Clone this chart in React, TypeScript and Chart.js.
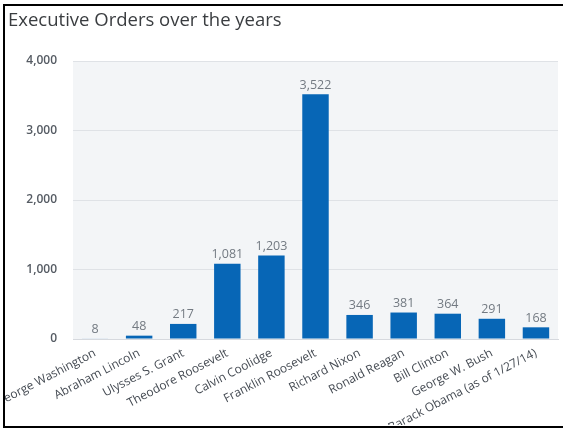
import React, { useEffect, useRef } from "react";
import { Chart, registerables } from "chart.js";

Chart.register(...registerables);

const categories = [
  "George Washington",
  "Abraham Lincoln",
  "Ulysses S. Grant",
  "Theodore Roosevelt",
  "Calvin Coolidge",
  "Franklin Roosevelt",
  "Richard Nixon",
  "Ronald Reagan",
  "Bill Clinton",
  "George W. Bush",
  "Barack Obama (as of 1/27/14)",
];
const orders = [8, 48, 217, 1081, 1203, 3522, 346, 381, 364, 291, 168];
const titleText = "Executive Orders over the years";
const yMax = 4000;
const yStep = 1000;

const FONT = "'Open Sans', 'Noto Sans', sans-serif";

const bgPlugin = {
  id: "plotBg",
  beforeDraw(chart: any) {
    const { ctx, chartArea } = chart;
    ctx.save();
    ctx.fillStyle = "#f3f5f7";
    ctx.fillRect(chartArea.left, chartArea.top, chartArea.right - chartArea.left, chartArea.bottom - chartArea.top);
    ctx.restore();
  },
};

const titlePlugin = {
  id: "leftTitle",
  afterDraw(chart: any) {
    const { ctx } = chart;
    ctx.save();
    ctx.font = `18.5px ${FONT}`;
    ctx.fillStyle = "#3a3d40";
    ctx.textAlign = "left";
    ctx.textBaseline = "alphabetic";
    ctx.fillText(titleText, 3, 20);
    ctx.restore();
  },
};

const labelPlugin = {
  id: "valueLabels",
  afterDatasetsDraw(chart: any) {
    const { ctx } = chart;
    const meta = chart.getDatasetMeta(0);
    ctx.save();
    ctx.font = `12.5px ${FONT}`;
    ctx.fillStyle = "#737a82";
    ctx.textAlign = "center";
    ctx.textBaseline = "bottom";
    meta.data.forEach((bar: any, i: number) => {
      const v = chart.data.datasets[0].data[i];
      ctx.fillText(Number(v).toLocaleString("en-US"), bar.x, bar.y - 3);
    });
    ctx.restore();
  },
};

export default function App() {
  const ref = useRef<HTMLCanvasElement>(null);
  useEffect(() => {
    const chart = new Chart(ref.current!, {
      type: "bar",
      data: {
        labels: categories,
        datasets: [
          {
            data: orders,
            backgroundColor: "#0766b6",
            borderWidth: 0,
            categoryPercentage: 1,
            barPercentage: 0.6,
          },
        ],
      },
      plugins: [bgPlugin, titlePlugin, labelPlugin],
      options: {
        animation: false,
        responsive: false,
        maintainAspectRatio: false,
        layout: { padding: { top: 55, left: 0, right: 5, bottom: 0 } },
        plugins: {
          legend: { display: false },
          title: { display: false },
          tooltip: { enabled: false },
        },
        scales: {
          x: {
            grid: { display: false, drawTicks: false },
            border: { display: true, color: "#d6d9de", width: 1 },
            ticks: {
              autoSkip: false,
              minRotation: 27.5,
              maxRotation: 27.5,
              padding: 7,
              color: "#444a52",
              font: { family: FONT, size: 12 },
            },
            afterFit(scale: any) {
              scale.height = 86;
              scale.paddingLeft = 0;
              scale.paddingRight = 0;
            },
          },
          y: {
            min: 0,
            max: yMax,
            grid: { color: "#dfe2e6", drawTicks: false },
            border: { display: false },
            ticks: {
              stepSize: yStep,
              padding: 16,
              color: "#555b63",
              font: { family: FONT, size: 12, weight: "600" },
              callback: (v: any) => Number(v).toLocaleString("en-US"),
            },
            afterFit(scale: any) {
              scale.width = 68;
            },
          },
        },
      },
    });
    return () => chart.destroy();
  }, []);

  return (
    <div style={{ position: "fixed", left: 0, top: 0, width: 563, height: 429, background: "#fff", overflow: "hidden" }}>
      <div
        style={{
          position: "absolute",
          left: 3,
          top: 4,
          width: 600,
          height: 420,
          borderLeft: "2px solid #000",
          borderTop: "2px solid #000",
          borderBottom: "2px solid #000",
        }}
      />
      <div style={{ position: "absolute", left: 5, top: 6, width: 558, height: 419, overflow: "hidden" }}>
        <canvas ref={ref} width={558} height={419} style={{ display: "block", width: 558, height: 419 }} />
      </div>
    </div>
  );
}
